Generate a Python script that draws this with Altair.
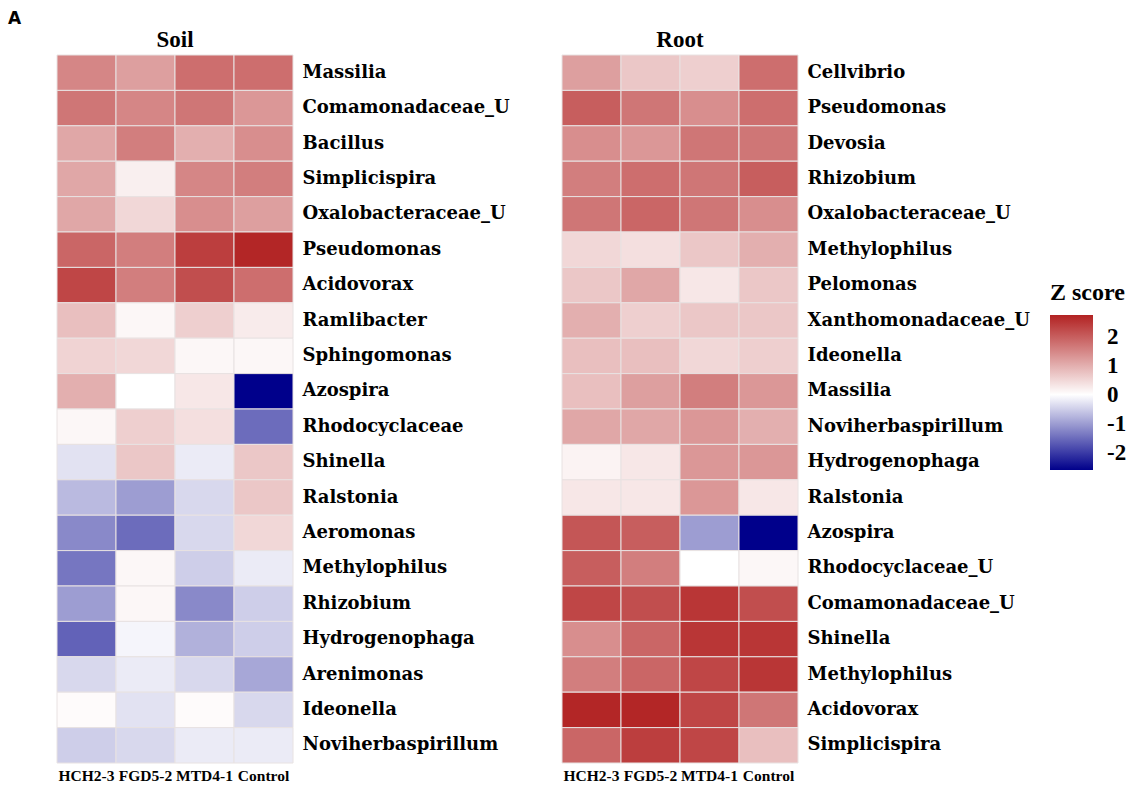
import altair as alt
import pandas as pd

groups = ["HCH2-3", "FGD5-2", "MTD4-1", "Control"]

soil_taxa = [
    "Massilia", "Comamonadaceae_U", "Bacillus", "Simplicispira", "Oxalobacteraceae_U",
    "Pseudomonas", "Acidovorax", "Ramlibacter", "Sphingomonas", "Azospira",
    "Rhodocyclaceae", "Shinella", "Ralstonia", "Aeromonas", "Methylophilus",
    "Rhizobium", "Hydrogenophaga", "Arenimonas", "Ideonella", "Noviherbaspirillum",
]
soil_z = [
    [1.5, 1.2, 1.8, 1.8],
    [1.7, 1.5, 1.7, 1.3],
    [1.1, 1.6, 1.0, 1.4],
    [1.1, 0.2, 1.5, 1.6],
    [1.1, 0.5, 1.4, 1.2],
    [1.9, 1.6, 2.4, 2.7],
    [2.3, 1.6, 2.2, 1.8],
    [0.8, 0.1, 0.6, 0.25],
    [0.55, 0.5, 0.1, 0.1],
    [1.0, 0.0, 0.3, -2.6],
    [0.1, 0.6, 0.4, -1.5],
    [-0.3, 0.7, -0.2, 0.7],
    [-0.7, -1.0, -0.4, 0.7],
    [-1.2, -1.5, -0.4, 0.5],
    [-1.4, 0.1, -0.5, -0.2],
    [-1.0, 0.1, -1.2, -0.5],
    [-1.6, -0.1, -0.8, -0.5],
    [-0.4, -0.2, -0.4, -0.9],
    [0.05, -0.3, 0.05, -0.4],
    [-0.5, -0.4, -0.2, -0.2],
]

root_taxa = [
    "Cellvibrio", "Pseudomonas", "Devosia", "Rhizobium", "Oxalobacteraceae_U",
    "Methylophilus", "Pelomonas", "Xanthomonadaceae_U", "Ideonella", "Massilia",
    "Noviherbaspirillum", "Hydrogenophaga", "Ralstonia", "Azospira", "Rhodocyclaceae_U",
    "Comamonadaceae_U", "Shinella", "Methylophilus", "Acidovorax", "Simplicispira",
]
root_z = [
    [1.2, 0.7, 0.6, 1.8],
    [2.0, 1.7, 1.4, 1.8],
    [1.4, 1.3, 1.7, 1.7],
    [1.6, 1.8, 1.7, 2.0],
    [1.7, 1.9, 1.7, 1.4],
    [0.5, 0.4, 0.7, 1.0],
    [0.7, 1.1, 0.3, 0.7],
    [1.0, 0.6, 0.7, 0.7],
    [0.8, 0.8, 0.5, 0.6],
    [0.8, 1.2, 1.6, 1.3],
    [1.1, 1.1, 1.3, 1.0],
    [0.15, 0.3, 1.3, 1.3],
    [0.3, 0.3, 1.3, 0.3],
    [2.1, 2.0, -1.0, -2.6],
    [2.0, 1.6, 0.0, 0.1],
    [2.3, 2.2, 2.5, 2.2],
    [1.4, 1.9, 2.5, 2.5],
    [1.6, 1.9, 2.3, 2.5],
    [2.7, 2.7, 2.3, 1.7],
    [1.9, 2.4, 2.3, 0.8],
]

legend_ticks = [2, 1, 0, -1, -2]

SERIF = "Liberation Serif"
LABEL_FONT = "DejaVu Serif"
PANEL_W = 236
PANEL_H = 708


def long_table(taxa, z):
    rows = []
    for i, (name, vals) in enumerate(zip(taxa, z)):
        for g, v in zip(groups, vals):
            rows.append({"key": f"{i:02d}|{name}", "group": g, "z": v})
    return pd.DataFrame(rows)


color_scale = alt.Scale(
    domain=[-2.6, 0, 2.75],
    range=["#00008B", "#FFFFFF", "#B22222"],
    interpolate="rgb",
)


def text_layer(text, x, y, font, size, align="center", baseline="alphabetic"):
    return alt.Chart(pd.DataFrame({"t": [text]})).mark_text(
        font=font, fontSize=size, fontWeight="bold", align=align,
        baseline=baseline, color="black",
    ).encode(text="t:N", x=alt.value(x), y=alt.value(y))


def heatmap(taxa, z, title, show_legend):
    df = long_table(taxa, z)
    legend = (
        alt.Legend(
            title="Z score",
            orient="none",
            legendX=488,
            legendY=226,
            direction="vertical",
            gradientLength=155,
            gradientThickness=43,
            values=legend_ticks,
            labelExpr="toString(datum.value)",
            titleFont=SERIF,
            titleFontSize=24,
            titleFontWeight="bold",
            titleColor="black",
            titlePadding=10,
            labelFont=SERIF,
            labelFontSize=23,
            labelFontWeight="bold",
            labelColor="black",
            labelOffset=14,
            gradientStrokeWidth=0,
        )
        if show_legend
        else None
    )
    color = alt.Color("z:Q", scale=color_scale, legend=legend)
    rects = alt.Chart(df).mark_rect(stroke="#e8e2e2", strokeWidth=1).encode(
        x=alt.X(
            "group:N",
            sort=groups,
            title=None,
            axis=alt.Axis(
                orient="bottom",
                labelAngle=0,
                labelFont=SERIF,
                labelFontSize=15.5,
                labelFontWeight="bold",
                labelColor="black",
                labelPadding=5,
                ticks=False,
                domain=False,
            ),
        ),
        y=alt.Y(
            "key:N",
            sort="ascending",
            title=None,
            axis=alt.Axis(
                orient="right",
                labelExpr="split(datum.value, '|')[1]",
                labelFont=LABEL_FONT,
                labelFontSize=18,
                labelFontWeight="bold",
                labelColor="black",
                labelPadding=9,
                labelAlign="left",
                labelLimit=0,
                ticks=False,
                domain=False,
            ),
        ),
        color=color,
    )
    head = text_layer(title, PANEL_W / 2, -8, SERIF, 23)
    return alt.layer(rects, head).properties(width=PANEL_W, height=PANEL_H)


soil = heatmap(soil_taxa, soil_z, "Soil", False)
soil = alt.layer(soil, text_layer("A", -49, -44, "DejaVu Sans", 17, align="left", baseline="top"))

root = heatmap(root_taxa, root_z, "Root", True)

chart = (
    alt.hconcat(soil, root, spacing=269, bounds="flush")
    .resolve_scale(color="independent")
    .configure_view(stroke=None)
    .properties(padding={"left": 8, "top": 10, "right": 5, "bottom": 5})
)

chart.save("out.html", embed_options={"renderer": "svg", "actions": False})
